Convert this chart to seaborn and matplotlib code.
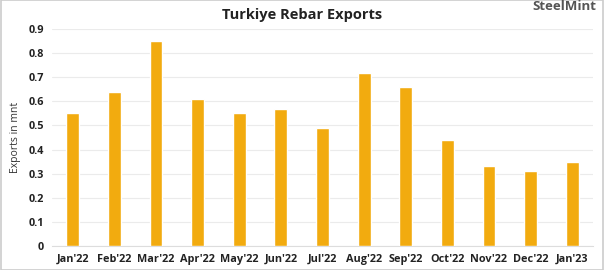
import matplotlib
matplotlib.use("Agg")
import matplotlib.pyplot as plt
import seaborn as sns
import pandas as pd
from matplotlib.patches import Rectangle

months = ["Jan'22", "Feb'22", "Mar'22", "Apr'22", "May'22", "Jun'22", "Jul'22",
          "Aug'22", "Sep'22", "Oct'22", "Nov'22", "Dec'22", "Jan'23"]
exports = [0.55, 0.64, 0.85, 0.61, 0.55, 0.57, 0.49, 0.72, 0.66, 0.44, 0.33, 0.31, 0.35]
yticks = [0, 0.1, 0.2, 0.3, 0.4, 0.5, 0.6, 0.7, 0.8, 0.9]

sns.set_theme(style="white")
plt.rcParams['font.family'] = ['Open Sans', 'DejaVu Sans']

df = pd.DataFrame({"month": months, "exports": exports})

fig = plt.figure(figsize=(6.04, 2.70), dpi=100)
ax = fig.add_axes([52/604, 1 - 245.7/270, (593-52)/604, (245.7-29.3)/270])
sns.barplot(data=df, x="month", y="exports", color="#F2AB0F", saturation=1,
            width=0.31, ax=ax, zorder=3)
ax.set_xlim(-0.5, 12.5)
ax.set_ylim(0, 0.9)
ax.set_yticks(yticks)
ax.set_yticklabels(["0" if v == 0 else f"{v:.1f}" for v in yticks])
ax.grid(axis="y", color="#ebebeb", linewidth=0.8, zorder=0)
for s in ["top", "right", "left"]:
    ax.spines[s].set_visible(False)
ax.spines["bottom"].set_color("#dddddd")
ax.spines["bottom"].set_linewidth(0.8)
ax.tick_params(axis="both", length=0, labelsize=7.8, colors="#222222", pad=6)
for lbl in ax.get_xticklabels() + ax.get_yticklabels():
    lbl.set_fontweight("bold")
ax.set_xlabel("")
ax.set_ylabel("Exports in mnt", fontsize=7.5, color="#333333", labelpad=5)

fig.text(0.5, 1 - 15/270, "Turkiye Rebar Exports", ha="center", va="center",
         fontsize=10.5, fontweight="bold", color="#222222")
fig.text(596/604, 1 - 0.5/270, "SteelMint", ha="right", va="top",
         fontsize=9.5, fontweight="bold", color="#555555")

fig.patches.append(Rectangle((0.5/604, 0), 602/604, 1, transform=fig.transFigure,
                             fill=False, edgecolor="#cccccc", linewidth=1.2))

fig.savefig("out.png", dpi=100)
